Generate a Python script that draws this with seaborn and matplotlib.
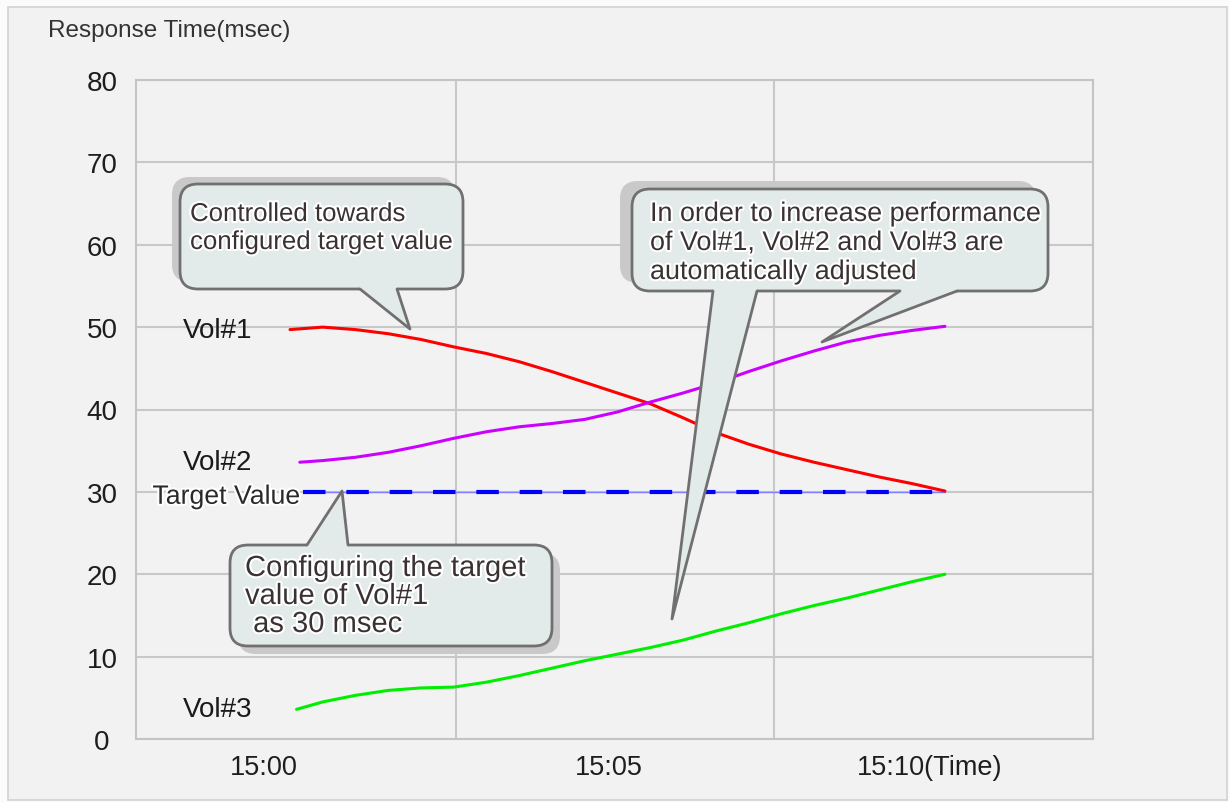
import pandas as pd
import matplotlib
matplotlib.use('Agg')
import matplotlib.pyplot as plt
import matplotlib.patheffects as pe
from matplotlib.patches import FancyBboxPatch, Polygon, Rectangle
from matplotlib.lines import Line2D
from matplotlib.transforms import Affine2D
import seaborn as sns

# minutes after 15:00 / response time in msec
vol1_time = [0, 0.5, 1, 1.5, 2, 2.5, 3, 3.5, 4, 4.5, 5, 5.5, 6, 6.5, 7, 7.5, 8, 8.5, 9, 9.5, 10]
vol1_msec = [49.7, 50.0, 49.7, 49.2, 48.5, 47.6, 46.8, 45.8, 44.6, 43.3, 42.0,
             40.7, 39.0, 37.2, 35.8, 34.6, 33.6, 32.7, 31.8, 31.0, 30.1]

vol2_time = [0.15, 0.5, 1, 1.5, 2, 2.5, 3, 3.5, 4, 4.5, 5, 5.5, 6, 6.5, 7, 7.5, 8, 8.5, 9, 9.5, 10]
vol2_msec = [33.6, 33.8, 34.2, 34.8, 35.6, 36.5, 37.3, 37.9, 38.3, 38.8, 39.7,
             40.9, 42.0, 43.2, 44.6, 45.9, 47.1, 48.2, 49.0, 49.6, 50.1]

vol3_time = [0.1, 0.5, 1, 1.5, 2, 2.5, 3, 3.5, 4, 4.5, 5, 5.5, 6, 6.5, 7, 7.5, 8, 8.5, 9, 9.5, 10]
vol3_msec = [3.6, 4.5, 5.3, 5.9, 6.2, 6.3, 6.9, 7.7, 8.6, 9.5, 10.3,
             11.1, 12.0, 13.1, 14.1, 15.2, 16.2, 17.1, 18.1, 19.1, 20.0]

target_time = [0.2, 10]
target_msec = [30, 30]

series_names = ['Vol#1', 'Vol#2', 'Vol#3']
series_colors = ['#ff0000', '#cc00ff', '#00ee00']

y_ticks = [0, 10, 20, 30, 40, 50, 60, 70, 80]
x_tick_labels = ['15:00', '15:05', '15:10(Time)']

# layout (minutes on the x axis)
x_tick_pos = [-0.4, 4.87, 9.76]
x_grid = [2.53, 7.39]

df = pd.concat([
    pd.DataFrame({'time': vol1_time, 'msec': vol1_msec, 'series': 'Vol#1'}),
    pd.DataFrame({'time': vol2_time, 'msec': vol2_msec, 'series': 'Vol#2'}),
    pd.DataFrame({'time': vol3_time, 'msec': vol3_msec, 'series': 'Vol#3'}),
])

sns.set_style('white')
plt.rcParams['font.family'] = ['Liberation Sans', 'DejaVu Sans']

W, H = 1230, 803
fig = plt.figure(figsize=(W / 100, H / 100), dpi=100, facecolor='#fbfbfb')
px = Affine2D().scale(1 / W, -1 / H).translate(0, 1) + fig.transFigure

# outer panel
fig.patches.append(Rectangle((8, 8), 1219, 793, transform=px, fc='#f2f2f2',
                             ec='#d2d2d2', lw=1.2, zorder=-5))

ax = fig.add_axes([136 / W, 63 / H, 957 / W, 659 / H])
ax.set_facecolor('#f2f2f2')
ax.set_xlim(-2.351, 12.26)
ax.set_ylim(0, 80)

ax.set_yticks(y_ticks)
ax.grid(axis='y', color='#c8c8c8', lw=1.5, zorder=0)
for gx in x_grid:
    ax.axvline(gx, color='#c8c8c8', lw=1.5, zorder=0)
for s in ax.spines.values():
    s.set_color('#c4c4c4')
    s.set_linewidth(1.5)

sns.lineplot(data=df, x='time', y='msec', hue='series',
             palette=dict(zip(series_names, series_colors)),
             linewidth=2.2, legend=False, sort=False, estimator=None, ax=ax, zorder=3)
for ln in ax.get_lines():
    ln.set_solid_joinstyle('round')

# target value line
ax.plot(target_time, target_msec, color='#7f7fff', lw=1.0, zorder=2)
ax.plot(target_time, target_msec, color='#0000ff', lw=3.0, dashes=(5.4, 5.0), zorder=3)

ax.set_xlabel('')
ax.set_ylabel('')
ax.set_xticks(x_tick_pos)
ax.set_xticklabels(x_tick_labels)
ax.tick_params(axis='x', length=0, pad=11, labelsize=19.5, labelcolor='#1e1e1e')
ax.tick_params(axis='y', length=0, pad=24.5, labelsize=20, labelcolor='#1e1e1e')
for lbl in ax.get_yticklabels():
    lbl.set_ha('center')

fig.text(48 / W, 1 - 31 / H, 'Response Time(msec)', fontsize=17.5, color='#333333',
         va='center', ha='left')

# series labels at the start of each line
label_x = -1.63
for name, ys in zip(series_names, [vol1_msec, vol2_msec, vol3_msec]):
    ax.text(label_x, ys[0], name, fontsize=20, color='#1a1a1a', va='center', ha='left')
ax.text(0.15, target_msec[0] - 0.6, 'Target Value', fontsize=19.2, color='#2a2a2a',
        va='center', ha='right',
        path_effects=[pe.withStroke(linewidth=3, foreground='white')])

halo = [pe.withStroke(linewidth=3, foreground='white')]
box_fc, box_ec, shadow_c, text_c = '#e3eaea', '#707070', '#c9c9c9', '#3a3232'


def callout(x0, y0, x1, y1, shadow, tails, lines, tx, baselines, size):
    sx, sy = shadow
    ax.add_patch(FancyBboxPatch((x0 + sx, y0 + sy), x1 - x0, y1 - y0,
                                boxstyle='round,pad=0,rounding_size=18', transform=px,
                                fc=shadow_c, ec='none', clip_on=False, zorder=5))
    ax.add_patch(FancyBboxPatch((x0, y0), x1 - x0, y1 - y0,
                                boxstyle='round,pad=0,rounding_size=18', transform=px,
                                fc=box_fc, ec=box_ec, lw=2.0, clip_on=False, zorder=6))
    for (bl, tip, br) in tails:
        d = -4 if tip[1] > y1 else 4
        ax.add_patch(Polygon([(bl[0], bl[1] + d), bl, tip, br, (br[0], br[1] + d)],
                             closed=True, transform=px, fc=box_fc, ec='none',
                             clip_on=False, zorder=7))
        ax.add_line(Line2D([bl[0], tip[0], br[0]], [bl[1], tip[1], br[1]], transform=px,
                           color=box_ec, lw=2.0, solid_joinstyle='round',
                           clip_on=False, zorder=8))
    for line, by in zip(lines, baselines):
        ax.text(tx, by, line, transform=px, fontsize=size, color=text_c, va='baseline',
                ha='left', path_effects=halo, clip_on=False, zorder=9)


callout(180, 185, 463, 290, (-8, -7),
        [((360, 290), (410, 330), (397, 290))],
        ['Controlled towards', 'configured target value'], 190, [222, 250], 18.6)

callout(632, 190, 1048, 292, (-12, -8),
        [((713, 292), (672, 620), (757, 292)),
         ((900, 292), (822, 343), (957, 292))],
        ['In order to increase performance', 'of Vol#1, Vol#2 and Vol#3 are',
         'automatically adjusted'], 650, [222, 251, 280], 19.4)

callout(230, 546, 552, 647, (8, 8),
        [((307, 546), (342, 492), (348, 546))],
        ['Configuring the target', 'value of Vol#1', ' as 30 msec'], 245, [577, 605, 633], 21)

fig.savefig('out.png', dpi=100, facecolor=fig.get_facecolor())
